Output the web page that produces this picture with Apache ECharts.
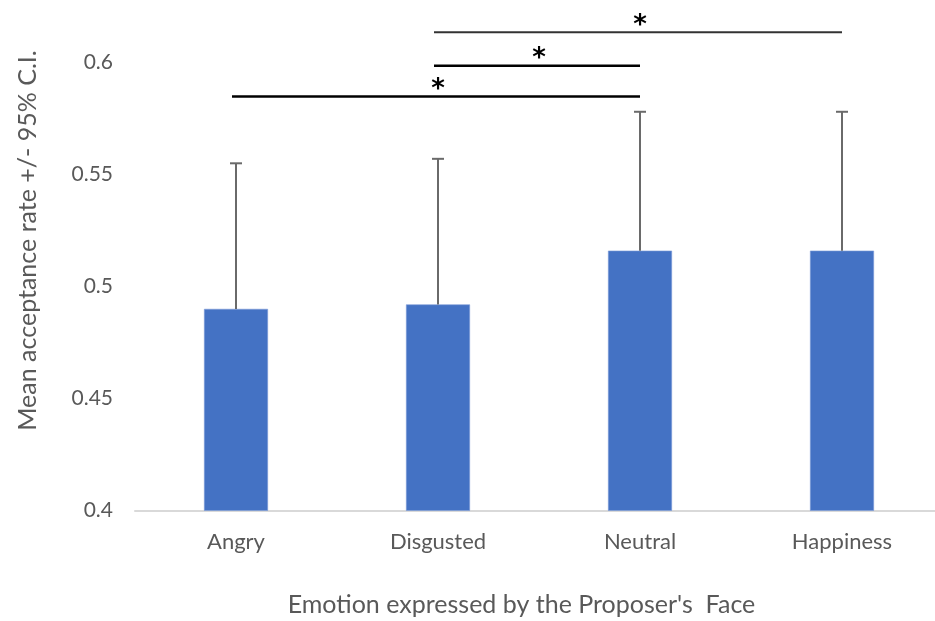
<!DOCTYPE html>
<html>
<head>
<meta charset="utf-8">
<script src="https://cdn.jsdelivr.net/npm/echarts@6/dist/echarts.min.js"></script>
<style>
  html, body { margin: 0; padding: 0; background: #ffffff; }
  #chart { width: 935px; height: 621px; }
</style>
</head>
<body>
<div id="chart"></div>
<script>
// Emotion categories of the proposer's face
const categories = ['Angry', 'Disgusted', 'Neutral', 'Happiness'];
// Mean acceptance rate per emotion
const means = [0.490, 0.492, 0.516, 0.516];
// Upper bound of the 95% confidence interval
const upperCI = [0.555, 0.557, 0.578, 0.578];
// Significant pairwise comparisons: [from index, to index, bracket level]
const comparisons = [
  [0, 2, 0.5848],
  [1, 2, 0.5986],
  [1, 3, 0.6135]
];
const comparisonMarks = ['*', '*', '*'];
// Value axis ticks
const yMin = 0.4, yMax = 0.6, yStep = 0.05;

const FONT = 'Lato, "Open Sans", sans-serif';
const GREY = '#595959';

const chart = echarts.init(document.getElementById('chart'), null, { renderer: 'canvas' });

const option = {
  backgroundColor: '#ffffff',
  animation: false,
  grid: {
    left: 135, top: 62.5, width: 808, height: 448,
    containLabel: false, outerBoundsMode: 'none'
  },
  xAxis: {
    type: 'category',
    data: categories,
    axisTick: { show: false },
    axisLine: { lineStyle: { color: '#d9d9d9', width: 2 } },
    axisLabel: { color: GREY, fontFamily: FONT, fontSize: 22, margin: 20 },
    name: "Emotion expressed by the Proposer's  Face",
    nameLocation: 'middle',
    nameGap: 82,
    nameTextStyle: { color: GREY, fontFamily: FONT, fontSize: 25, padding: [0, 35, 0, 0] }
  },
  yAxis: {
    type: 'value',
    min: yMin, max: yMax, interval: yStep,
    splitLine: { show: false },
    axisLine: { show: false },
    axisTick: { show: false },
    axisLabel: { color: GREY, fontFamily: FONT, fontSize: 21, margin: 22 },
    name: 'Mean acceptance rate +/- 95% C.I.',
    nameLocation: 'middle',
    nameRotate: 90,
    nameGap: 95,
    nameTextStyle: { color: GREY, fontFamily: FONT, fontSize: 25, padding: [0, 0, 0, 92] }
  },
  series: [
    {
      name: 'Mean',
      type: 'bar',
      data: means,
      barWidth: 64,
      itemStyle: { color: '#4472c4', borderColor: '#7c9ad6', borderWidth: 0.6 },
      z: 2
    },
    {
      // Upper confidence interval whiskers
      name: 'CI',
      type: 'custom',
      data: categories.map((c, i) => [i, means[i], upperCI[i]]),
      renderItem: function (params, api) {
        const base = api.coord([api.value(0), api.value(1)]);
        const top = api.coord([api.value(0), api.value(2)]);
        const cap = 6;
        const style = { stroke: '#6a6a6a', lineWidth: 2 };
        return {
          type: 'group',
          children: [
            { type: 'line', shape: { x1: base[0], y1: base[1], x2: top[0], y2: top[1] }, style },
            { type: 'line', shape: { x1: top[0] - cap, y1: top[1], x2: top[0] + cap, y2: top[1] }, style }
          ]
        };
      },
      z: 3
    },
    {
      // Significance brackets with their markers
      name: 'Significance',
      type: 'custom',
      clip: false,
      data: comparisons.map((c, i) => [c[0], c[1], c[2], i]),
      renderItem: function (params, api) {
        const a = api.coord([api.value(0), api.value(2)]);
        const b = api.coord([api.value(1), api.value(2)]);
        const idx = api.value(3);
        const widths = [2.5, 2.5, 2];
        const colors = ['#000000', '#000000', '#333333'];
        return {
          type: 'group',
          children: [
            { type: 'line', shape: { x1: a[0] - 4, y1: a[1], x2: b[0], y2: b[1] },
              style: { stroke: colors[idx], lineWidth: widths[idx] } },
            { type: 'text',
              style: { text: comparisonMarks[idx], x: (a[0] + b[0]) / 2, y: a[1] - 19,
                       fill: '#000000', font: 'bold 26px "DejaVu Sans", sans-serif',
                       align: 'center', verticalAlign: 'top' } }
          ]
        };
      },
      z: 4
    }
  ]
};

chart.setOption(option);
</script>
</body>
</html>
